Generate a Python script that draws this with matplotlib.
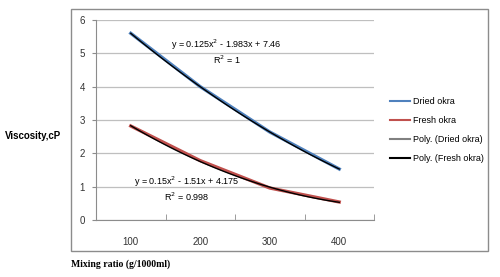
import numpy as np
import matplotlib
matplotlib.use("Agg")
import matplotlib.pyplot as plt
from matplotlib.patches import Rectangle

categories = ["100", "200", "300", "400"]
dried = [5.6, 4.0, 2.64, 1.53]
fresh = [2.82, 1.78, 0.96, 0.54]
yticks = [0, 1, 2, 3, 4, 5, 6]
eq_dried = "y = 0.125x$^2$ - 1.983x + 7.46\nR$^2$ = 1"
eq_fresh = "y = 0.15x$^2$ - 1.51x + 4.175\nR$^2$ = 0.998"

plt.rcParams['font.family'] = ['Liberation Sans', 'DejaVu Sans']

fig = plt.figure(figsize=(5, 2.77), dpi=100)
W, H = 500, 277
ax = fig.add_axes([96 / W, 1 - 220 / H, (374 - 96) / W, (220 - 20) / H])

# chart border
fig.patches.append(Rectangle((71 / W, 1 - 251 / H), (488 - 71) / W, (251 - 9) / H,
                             transform=fig.transFigure, fill=False,
                             edgecolor='#8c8c8c', linewidth=1.0))

x = np.arange(1, len(categories) + 1)
ax.plot(x, dried, color='#4f81bd', lw=2.4, label='Dried okra', zorder=2)
ax.plot(x, fresh, color='#c0504d', lw=2.4, label='Fresh okra', zorder=2)

xs = np.linspace(1, 4, 100)
cd = np.polyfit(x, dried, 2)
cf = np.polyfit(x, fresh, 2)
ax.plot(xs, np.polyval(cd, xs), color='black', lw=1.0, label='Poly. (Dried okra)', zorder=3)
ax.plot(xs, np.polyval(cf, xs), color='black', lw=1.0, label='Poly. (Fresh okra)', zorder=3)

ax.set_xlim(0.5, 4.5)
ax.set_ylim(0, 6)
ax.set_yticks(yticks)
ax.set_xticks(x)
ax.set_xticklabels(categories)
ax.set_xticks(np.arange(0.5, 4.6, 1), minor=True)
ax.tick_params(axis='x', which='major', length=0, labelsize=7, pad=12, colors='#333333')
ax.tick_params(axis='x', which='minor', length=4, color='#8c8c8c', direction='in')
ax.tick_params(axis='y', length=3, labelsize=7, color='#8c8c8c', labelcolor='#333333', pad=5)
ax.grid(axis='y', color='#bfbfbf', lw=0.9)
ax.set_axisbelow(True)
for s in ['top', 'right']:
    ax.spines[s].set_visible(False)
for s in ['left', 'bottom']:
    ax.spines[s].set_color('#8c8c8c')

ax.text(2.38, 5.05, eq_dried, ha='center', va='center', fontsize=6.5, linespacing=1.1)
ax.text(1.81, 0.93, eq_fresh, ha='center', va='center', fontsize=6.5, linespacing=1.1)

handles, labels = ax.get_legend_handles_labels()
leg = fig.legend(handles, labels, loc='center left', bbox_to_anchor=(382 / W, 1 - 130 / H),
                 frameon=False, fontsize=6.5, handlelength=2.2, handletextpad=0.3,
                 labelspacing=1.1)
for lh in leg.get_lines():
    lh.set_linewidth(1.5)
leg.get_lines()[2].set_color('#808080')

fig.text(5 / W, 1 - 136 / H, "Viscosity,cP", fontsize=7, fontweight='bold', va='center', ha='left')
fig.text(71 / W, 1 - 264 / H, "Mixing ratio (g/1000ml)", fontsize=7, fontweight='bold',
         va='center', ha='left', family=['Liberation Serif', 'DejaVu Serif'])

fig.savefig("out.png", dpi=100)
